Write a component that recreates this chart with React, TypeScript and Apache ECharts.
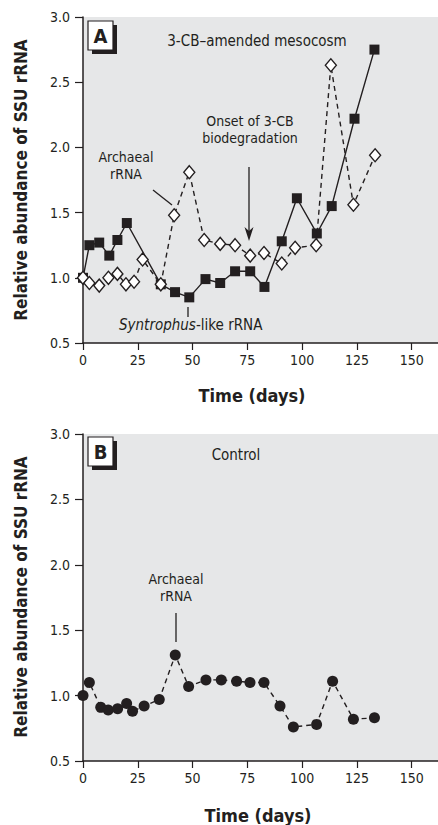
import React, { useEffect, useRef } from "react";
import * as echarts from "echarts";

// ---- Data ----
// Panel A: 3-CB-amended mesocosm
const daysArchaealA = [0, 2.9, 7.4, 11.6, 15.7, 19.6, 23.3, 27.2, 35.5, 41.6, 48.5, 55.3, 62.6, 69.4, 76.3, 82.6, 90.7, 96.8, 106.4, 113.1, 123.4, 133.3];
const archaealA = [1.0, 0.96, 0.94, 1.0, 1.03, 0.95, 0.97, 1.14, 0.95, 1.48, 1.81, 1.29, 1.26, 1.25, 1.17, 1.19, 1.11, 1.23, 1.25, 2.63, 1.56, 1.94];

const daysSyntrophusA = [0, 2.9, 7.4, 12, 15.7, 20, 35.5, 42, 48.5, 55.9, 62.6, 69.4, 76.3, 82.8, 90.7, 97.6, 106.7, 113.5, 123.9, 133];
const syntrophusA = [1.0, 1.25, 1.27, 1.17, 1.29, 1.42, 0.95, 0.89, 0.85, 0.99, 0.96, 1.05, 1.05, 0.93, 1.28, 1.61, 1.34, 1.55, 2.22, 2.75];

// Panel B: Control
const daysArchaealB = [0, 2.9, 8.1, 11.5, 15.8, 19.9, 22.6, 27.9, 34.8, 42.1, 48.2, 56.1, 63.1, 70.1, 76.2, 82.6, 89.9, 96, 106.6, 113.9, 123.4, 133];
const archaealB = [1.0, 1.1, 0.91, 0.89, 0.9, 0.94, 0.88, 0.92, 0.97, 1.31, 1.07, 1.12, 1.12, 1.11, 1.1, 1.1, 0.92, 0.76, 0.78, 1.11, 0.82, 0.83];

const xTicks = [0, 25, 50, 75, 100, 125, 150];
const yMin = 0.5;
const yMax = 3.0;
const yStep = 0.5;
const xMax = 162;

const FONT = "'Liberation Sans Narrow', 'Arial Narrow', 'DejaVu Sans Condensed', sans-serif";
const INK = "#231f20";
const BG = "#e6e7e8";

const pairs = (xs: number[], ys: number[]) => xs.map((x, i) => [x, ys[i]]);

function makeXAxis(gridIndex: number) {
  return {
    type: "value",
    gridIndex,
    min: 0,
    max: xMax,
    interval: 25,
    axisLine: { show: true, lineStyle: { color: INK, width: 1.5 } },
    axisTick: { show: true, length: 7, customValues: xTicks, lineStyle: { color: INK, width: 1.2 } },
    axisLabel: {
      customValues: xTicks,
      color: INK,
      fontFamily: FONT,
      fontSize: 14,
      margin: 10,
    },
    splitLine: { show: false },
  };
}

function makeYAxis(gridIndex: number) {
  return {
    type: "value",
    gridIndex,
    min: yMin,
    max: yMax,
    interval: yStep,
    axisLine: { show: true, lineStyle: { color: INK, width: 1.5 } },
    axisTick: { show: true, length: 8, lineStyle: { color: INK, width: 1.2 } },
    axisLabel: {
      color: INK,
      fontFamily: FONT,
      fontSize: 14,
      margin: 13,
      formatter: (v: number) => v.toFixed(1),
    },
    splitLine: { show: false },
  };
}

function panelBox(x: number, y: number, letter: string) {
  return [
    { type: "rect", shape: { x: x + 4, y: y + 4, width: 25, height: 29 }, style: { fill: INK }, z: 10 },
    { type: "rect", shape: { x, y, width: 25, height: 29 }, style: { fill: "#fff", stroke: INK, lineWidth: 1.2 }, z: 11 },
    {
      type: "text",
      x: x + 12.5,
      y: y + 15,
      z: 12,
      style: { text: letter, fill: INK, font: `bold 20px ${FONT}`, align: "center", verticalAlign: "middle" },
    },
  ];
}

function txt(x: number, y: number, text: string, extra: any = {}) {
  return {
    type: "text",
    x,
    y,
    z: 12,
    style: { text, fill: INK, font: `15px ${FONT}`, align: "center", verticalAlign: "middle", ...extra },
  };
}

function seg(x1: number, y1: number, x2: number, y2: number) {
  return { type: "line", z: 12, shape: { x1, y1, x2, y2 }, style: { stroke: INK, lineWidth: 1.3 } };
}

const TWO_LINE = { font: `14px ${FONT}`, lineHeight: 17 };

export default function App() {
  const ref = useRef<HTMLDivElement>(null);

  useEffect(() => {
    if (!ref.current) return;
    const chart = echarts.init(ref.current, null, { renderer: "svg" });

    const option: any = {
      animation: false,
      backgroundColor: "#ffffff",
      grid: [
        { left: 83, top: 17, width: 355, height: 326, show: true, backgroundColor: BG, borderWidth: 0 },
        { left: 83, top: 434, width: 355, height: 327, show: true, backgroundColor: BG, borderWidth: 0 },
      ],
      xAxis: [makeXAxis(0), makeXAxis(1)],
      yAxis: [makeYAxis(0), makeYAxis(1)],
      series: [
        {
          name: "Syntrophus-like rRNA",
          type: "line",
          xAxisIndex: 0,
          yAxisIndex: 0,
          data: pairs(daysSyntrophusA, syntrophusA),
          symbol: "rect",
          symbolSize: 10,
          itemStyle: { color: INK },
          lineStyle: { color: INK, width: 1.4 },
          z: 2,
        },
        {
          name: "Archaeal rRNA (A)",
          type: "line",
          xAxisIndex: 0,
          yAxisIndex: 0,
          data: pairs(daysArchaealA, archaealA),
          symbol: "diamond",
          symbolSize: [11, 13],
          itemStyle: { color: "#ffffff", borderColor: INK, borderWidth: 1.4 },
          lineStyle: { color: INK, width: 1.4, type: [5, 4] },
          z: 3,
        },
        {
          name: "Archaeal rRNA (B)",
          type: "line",
          xAxisIndex: 1,
          yAxisIndex: 1,
          data: pairs(daysArchaealB, archaealB),
          symbol: "circle",
          symbolSize: 11,
          itemStyle: { color: INK },
          lineStyle: { color: INK, width: 1.4, type: [5, 4] },
          z: 3,
        },
      ],
      graphic: [
        ...panelBox(88, 21, "A"),
        ...panelBox(88, 437, "B"),
        // Y axis titles
        {
          type: "text",
          x: 21,
          y: 180,
          rotation: Math.PI / 2,
          z: 12,
          style: { text: "Relative abundance of SSU rRNA", fill: INK, font: `bold 17px ${FONT}`, align: "center", verticalAlign: "middle" },
        },
        {
          type: "text",
          x: 21,
          y: 597,
          rotation: Math.PI / 2,
          z: 12,
          style: { text: "Relative abundance of SSU rRNA", fill: INK, font: `bold 17px ${FONT}`, align: "center", verticalAlign: "middle" },
        },
        // X axis titles
        txt(252, 395, "Time (days)", { font: `bold 18px ${FONT}` }),
        txt(258, 815, "Time (days)", { font: `bold 18px ${FONT}` }),
        // Panel A annotations
        txt(257, 41, "3-CB\u2013amended mesocosm"),
        txt(250, 129.5, "Onset of 3-CB\nbiodegradation", TWO_LINE),
        seg(249, 167, 249, 232),
        {
          type: "polygon",
          z: 12,
          shape: { points: [[244.5, 227], [249, 241], [253.5, 227], [249, 231]] },
          style: { fill: INK },
        },
        txt(126, 165.5, "Archaeal\nrRNA", TWO_LINE),
        seg(153, 190, 172, 205),
        {
          type: "text",
          x: 119,
          y: 325,
          z: 12,
          style: {
            text: "{i|Syntrophus}-like rRNA",
            fill: INK,
            font: `15px ${FONT}`,
            align: "left",
            verticalAlign: "middle",
            rich: { i: { fontStyle: "italic", fontFamily: FONT, fontSize: 15, fill: INK } },
          },
        },
        seg(188, 307, 188, 317),
        // Panel B annotations
        txt(236, 455, "Control"),
        txt(176, 587.5, "Archaeal\nrRNA", TWO_LINE),
        seg(176, 613, 176, 642),
      ],
    };

    chart.setOption(option);
    return () => chart.dispose();
  }, []);

  return (
    <div
      ref={ref}
      style={{ position: "fixed", left: 0, top: 0, width: 438, height: 825 }}
    />
  );
}
